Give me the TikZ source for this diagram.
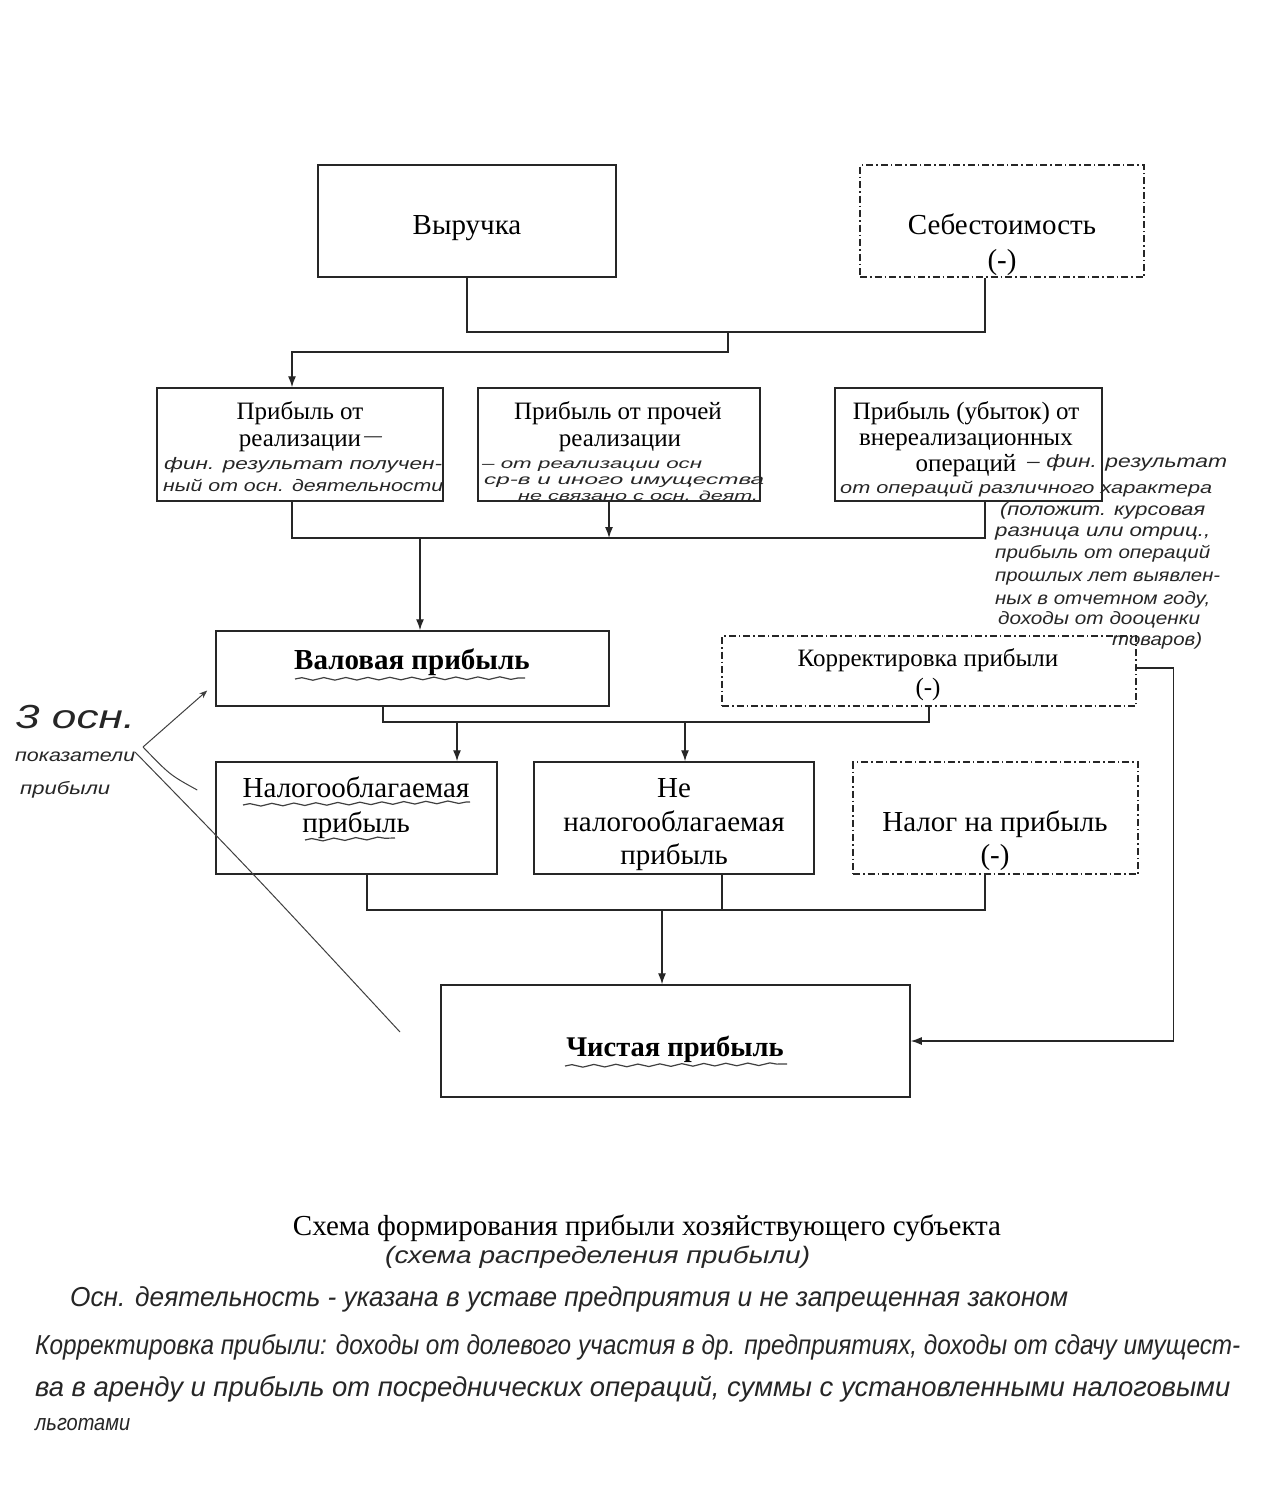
\documentclass[tikz,border=0pt]{standalone}
\usepackage{fontspec}
\setmainfont{Liberation Serif}
\newfontfamily\handfont{Liberation Sans}
\usetikzlibrary{arrows.meta,decorations.pathmorphing}
\newcommand\hw[3]{\resizebox{#1pt}{#2pt}{\handfont\itshape\strut #3}}
\newcommand\fs[1]{\fontsize{#1}{#1}\selectfont}
\tikzset{
  box/.style={draw=black!85, line width=1.5pt, inner sep=0pt, rectangle},
  dbox/.style={box, dash pattern=on 7pt off 3pt on 1.5pt off 3pt},
  conn/.style={draw=black!85, line width=1.3pt},
  arr/.style={conn, -{Latex[length=11pt,width=8pt]}},
  txt/.style={inner sep=0pt, text height=0.7em, text depth=0.25em, yshift=-7pt},
  hnd/.style={inner sep=0pt, anchor=west, text=black!85},
  handline/.style={line width=1pt, draw=black!75},
  wavy/.style={handline, line width=1.2pt, decorate, decoration={snake, amplitude=1.3pt, segment length=22pt}},
}
\begin{document}
\begin{tikzpicture}[x=1pt,y=-1pt]
\useasboundingbox (0,0) rectangle (1261,1489);
\fill[white] (0,0) rectangle (1261,1489);

% ---- boxes
\node[box,  minimum width=298pt, minimum height=112pt] (vyr)   at (467,221) {};
\node[dbox, minimum width=284pt, minimum height=112pt] (seb)   at (1002,221) {};
\node[box,  minimum width=286pt, minimum height=113pt] (b1)    at (300,444.5) {};
\node[box,  minimum width=282pt, minimum height=113pt] (b2)    at (619,444.5) {};
\node[box,  minimum width=267pt, minimum height=113pt] (b3)    at (968.5,444.5) {};
\node[box,  minimum width=393pt, minimum height=75pt]  (val)   at (412.5,668.5) {};
\node[dbox, minimum width=414pt, minimum height=70pt]  (kor)   at (929,671) {};
\node[box,  minimum width=281pt, minimum height=112pt] (nal)   at (356.5,818) {};
\node[box,  minimum width=280pt, minimum height=112pt] (nenal) at (674,818) {};
\node[dbox, minimum width=285pt, minimum height=112pt] (ntax)  at (995.5,818) {};
\node[box,  minimum width=469pt, minimum height=112pt] (chist) at (675.5,1041) {};

% ---- printed texts
\node[txt, font=\fs{29}] (t1) at (467,225) {Выручка};
\node[txt, font=\fs{29}] (t2) at (1002,225) {Себестоимость};
\node[txt, font=\fs{29}] (t3) at (1002,260) {(-)};
\node[txt, font=\fs{25}] (t4) at (300,410) {Прибыль от};
\node[txt, font=\fs{25}] (t5) at (300,437) {реализации};
\node[txt, font=\fs{25}] (t6) at (618,410) {Прибыль от прочей};
\node[txt, font=\fs{25}] (t7) at (620,437) {реализации};
\node[txt, font=\fs{25}] (t8) at (966,410) {Прибыль (убыток) от};
\node[txt, font=\fs{25}] (t9) at (966,436) {внереализационных};
\node[txt, font=\fs{25}] (t10) at (966,462) {операций};
\node[txt, font=\bfseries\fs{29}] (t11) at (412,660) {Валовая прибыль};
\node[txt, font=\fs{25}] (t12) at (928,657) {Корректировка прибыли};
\node[txt, font=\fs{25}] (t13) at (928,686) {(-)};
\node[txt, font=\fs{29}] (t14) at (356,788) {Налогооблагаемая};
\node[txt, font=\fs{29}] (t15) at (356,823) {прибыль};
\node[txt, font=\fs{29}] (t16) at (674,788) {Не};
\node[txt, font=\fs{29}] (t17) at (674,822) {налогооблагаемая};
\node[txt, font=\fs{29}] (t18) at (674,855) {прибыль};
\node[txt, font=\fs{29}] (t19) at (995,822) {Налог на прибыль};
\node[txt, font=\fs{29}] (t20) at (995,855) {(-)};
\node[txt, font=\bfseries\fs{28.5}] (t21) at (675,1047) {Чистая прибыль};
\node[txt, font=\fs{29}] (cap) at (647,1226) {Схема формирования прибыли хозяйствующего субъекта};

% ---- connectors
\coordinate (j1) at (728,332);
\draw[conn] (vyr.south) |- (j1) -| ([xshift=-17pt]seb.south);
\draw[arr] (j1) -- ++(0,20) -| ([xshift=-8pt]b1.north);

\coordinate (j2) at (420,538);
\draw[conn] ([xshift=-8pt]b1.south) |- (j2) -| ([xshift=16.5pt]b3.south);
\draw[arr] ([xshift=-10pt]b2.south) -- ([xshift=-10pt]b2.south |- j2);
\draw[arr] (j2) -- ([xshift=7.5pt]val.north);

\coordinate (j3) at (457,722);
\coordinate (j4) at (685,722);
\draw[conn] ([xshift=-29.5pt]val.south) |- (j3) -- (j4) -| (kor.south);
\draw[arr] (j3) -- (j3 |- nal.north);
\draw[arr] (j4) -- (j4 |- nenal.north);
\draw[arr] ([yshift=3pt]kor.east) -- ++(37,0) |- (chist.east);

\coordinate (j5) at (662,910);
\draw[conn] ([xshift=10.5pt]nal.south) |- (j5) -| ([xshift=-10.5pt]ntax.south);
\draw[conn] ([xshift=48pt]nenal.south) -- ([xshift=48pt]nenal.south |- j5);
\draw[arr] (j5) -- ([xshift=-13.5pt]chist.north);

% ---- handwritten underlines
\draw[wavy] (295,679) -- (525,678);
\draw[wavy] (243,805) -- (470,802);
\draw[wavy] (305,840) -- (395,838);
\draw[wavy] (565,1066) -- (787,1064);

% ---- handwritten notes
\node[hnd] (h0) at (364,437) {\hw{18}{14}{—}};
\node[hnd] (h1) at (164,465) {\hw{278}{14}{фин. результат получен-}};
\node[hnd] (h2) at (163,487) {\hw{280}{14}{ный от осн. деятельности}};
\node[hnd] (h3) at (482,465) {\hw{220}{12}{– от реализации осн}};
\node[hnd] (h4) at (484,481) {\hw{280}{12}{ср-в и иного имущества}};
\node[hnd] (h5) at (518,497) {\hw{240}{11}{не связано с осн. деят.}};
\node[hnd] (h6) at (1027,463) {\hw{200}{15}{– фин. результат}};
\node[hnd] (h7) at (840,489) {\hw{372}{14}{от операций различного характера}};
\node[hnd] (h8) at (1000,511) {\hw{205}{15}{(положит. курсовая}};
\node[hnd] (h9) at (995,532) {\hw{215}{15}{разница или отриц.,}};
\node[hnd] (h10) at (995,554) {\hw{215}{15}{прибыль от операций}};
\node[hnd] (h11) at (995,577) {\hw{225}{15}{прошлых лет выявлен-}};
\node[hnd] (h12) at (995,600) {\hw{215}{15}{ных в отчетном году,}};
\node[hnd] (h13) at (998,620) {\hw{202}{15}{доходы от дооценки}};
\node[hnd] (h14) at (1112,641) {\hw{90}{15}{товаров)}};
\node[hnd] (h15) at (15,720) {\hw{120}{28}{3 осн.}};
\node[hnd] (h16) at (15,757) {\hw{120}{15}{показатели}};
\node[hnd] (h17) at (20,790) {\hw{90}{15}{прибыли}};
\node[hnd] (h18) at (385,1258) {\hw{425}{20}{(схема распределения прибыли)}};
\node[hnd] (h19) at (70,1300) {\hw{998}{23}{Осн. деятельность - указана в уставе предприятия и не запрещенная законом}};
\node[hnd] (h20) at (35,1348) {\hw{1205}{23}{Корректировка прибыли: доходы от долевого участия в др. предприятиях, доходы от сдачу имущест-}};
\node[hnd] (h21) at (35,1390) {\hw{1195}{23}{ва в аренду и прибыль от посреднических операций, суммы с установленными налоговыми}};
\node[hnd] (h22) at (35,1425) {\hw{95}{19}{льготами}};

% ---- handwritten pointer strokes
\coordinate (hp) at (143,747);
\draw[handline, -{Stealth[length=8pt,width=6pt]}] (hp) -- ([xshift=-8pt,yshift=-22pt]val.west);
\draw[handline] (hp) .. controls (170,775) .. ([xshift=-18pt,yshift=28pt]nal.west);
\draw[handline] (135,752) .. controls (250,870) .. (400,1032);
\end{tikzpicture}
\end{document}
